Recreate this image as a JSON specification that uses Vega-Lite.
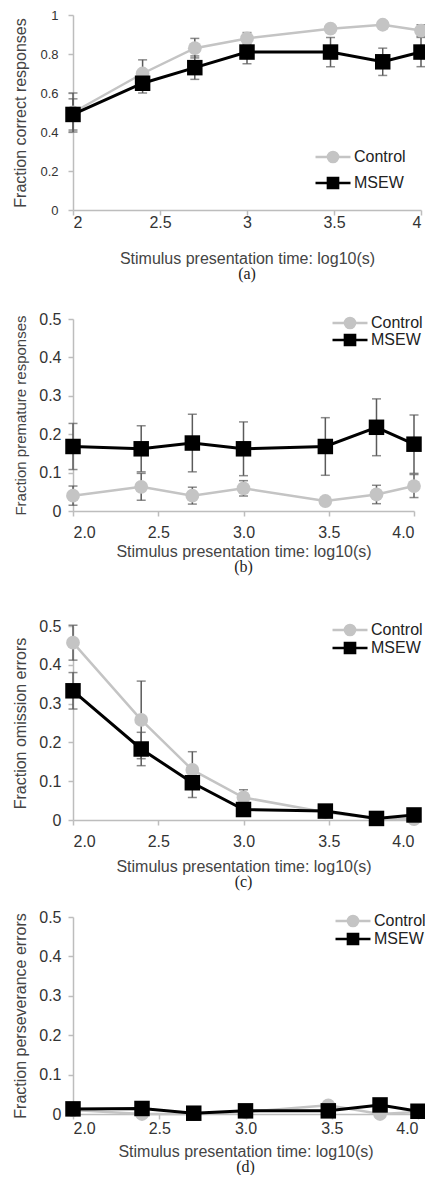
{
  "$schema": "https://vega.github.io/schema/vega-lite/v6.json",
  "padding": {"left": 12, "top": 9, "right": 0, "bottom": 0},
  "background": "white",
  "config": {
    "view": {"stroke": null},
    "axis": {"domainColor": "#bdbdbd", "tickColor": "#bdbdbd", "domainWidth": 1.5, "tickWidth": 1.5, "tickSize": 5, "labelFont": "Liberation Sans", "titleFont": "Liberation Sans", "labelColor": "#333", "titleColor": "#444", "titleFontWeight": "normal", "grid": false},
    "title": {"font": "Liberation Serif", "fontWeight": "normal", "color": "#222", "fontSize": 16, "anchor": "middle"},
    "legend": {"title": null, "padding": 0, "orient": "none", "labelFont": "Liberation Sans", "labelFontSize": 16, "labelColor": "#222", "symbolSize": 1225, "clipHeight": 16, "labelOffset": 2}
  },
  "data": {"values": [
    {"panel": "a", "series": "Control", "x": 2.0, "mean": 0.50, "err": 0.10},
    {"panel": "a", "series": "Control", "x": 2.4, "mean": 0.70, "err": 0.07},
    {"panel": "a", "series": "Control", "x": 2.7, "mean": 0.83, "err": 0.05},
    {"panel": "a", "series": "Control", "x": 3.0, "mean": 0.88, "err": 0.03},
    {"panel": "a", "series": "Control", "x": 3.48, "mean": 0.93, "err": 0.02},
    {"panel": "a", "series": "Control", "x": 3.78, "mean": 0.95, "err": 0.02},
    {"panel": "a", "series": "Control", "x": 4.0, "mean": 0.92, "err": 0.03},
    {"panel": "a", "series": "MSEW", "x": 2.0, "mean": 0.49, "err": 0.08},
    {"panel": "a", "series": "MSEW", "x": 2.4, "mean": 0.65, "err": 0.05},
    {"panel": "a", "series": "MSEW", "x": 2.7, "mean": 0.73, "err": 0.06},
    {"panel": "a", "series": "MSEW", "x": 3.0, "mean": 0.81, "err": 0.06},
    {"panel": "a", "series": "MSEW", "x": 3.48, "mean": 0.81, "err": 0.075},
    {"panel": "a", "series": "MSEW", "x": 3.78, "mean": 0.76, "err": 0.07},
    {"panel": "a", "series": "MSEW", "x": 4.0, "mean": 0.81, "err": 0.075},
    {"panel": "b", "series": "Control", "x": 2.0, "mean": 0.04, "err": 0.025},
    {"panel": "b", "series": "Control", "x": 2.4, "mean": 0.063, "err": 0.035},
    {"panel": "b", "series": "Control", "x": 2.7, "mean": 0.04, "err": 0.022},
    {"panel": "b", "series": "Control", "x": 3.0, "mean": 0.059, "err": 0.02},
    {"panel": "b", "series": "Control", "x": 3.48, "mean": 0.026, "err": 0.005},
    {"panel": "b", "series": "Control", "x": 3.78, "mean": 0.043, "err": 0.024},
    {"panel": "b", "series": "Control", "x": 4.0, "mean": 0.065, "err": 0.03},
    {"panel": "b", "series": "MSEW", "x": 2.0, "mean": 0.168, "err": 0.06},
    {"panel": "b", "series": "MSEW", "x": 2.4, "mean": 0.162, "err": 0.06},
    {"panel": "b", "series": "MSEW", "x": 2.7, "mean": 0.177, "err": 0.075},
    {"panel": "b", "series": "MSEW", "x": 3.0, "mean": 0.162, "err": 0.07},
    {"panel": "b", "series": "MSEW", "x": 3.48, "mean": 0.168, "err": 0.075},
    {"panel": "b", "series": "MSEW", "x": 3.78, "mean": 0.218, "err": 0.074},
    {"panel": "b", "series": "MSEW", "x": 4.0, "mean": 0.174, "err": 0.076},
    {"panel": "c", "series": "Control", "x": 2.0, "mean": 0.457, "err": 0.045},
    {"panel": "c", "series": "Control", "x": 2.4, "mean": 0.258, "err": 0.1},
    {"panel": "c", "series": "Control", "x": 2.7, "mean": 0.129, "err": 0.047},
    {"panel": "c", "series": "Control", "x": 3.0, "mean": 0.058, "err": 0.02},
    {"panel": "c", "series": "Control", "x": 3.48, "mean": 0.02, "err": 0.005},
    {"panel": "c", "series": "Control", "x": 3.78, "mean": 0.004, "err": 0.002},
    {"panel": "c", "series": "Control", "x": 4.0, "mean": 0.002, "err": 0.002},
    {"panel": "c", "series": "MSEW", "x": 2.0, "mean": 0.333, "err": 0.047},
    {"panel": "c", "series": "MSEW", "x": 2.4, "mean": 0.183, "err": 0.043},
    {"panel": "c", "series": "MSEW", "x": 2.7, "mean": 0.096, "err": 0.038},
    {"panel": "c", "series": "MSEW", "x": 3.0, "mean": 0.027, "err": 0.01},
    {"panel": "c", "series": "MSEW", "x": 3.48, "mean": 0.023, "err": 0.005},
    {"panel": "c", "series": "MSEW", "x": 3.78, "mean": 0.004, "err": 0.003},
    {"panel": "c", "series": "MSEW", "x": 4.0, "mean": 0.013, "err": 0.005},
    {"panel": "d", "series": "Control", "x": 2.0, "mean": 0.01, "err": 0.003},
    {"panel": "d", "series": "Control", "x": 2.4, "mean": 0.0, "err": 0.003},
    {"panel": "d", "series": "Control", "x": 2.7, "mean": 0.0, "err": 0.003},
    {"panel": "d", "series": "Control", "x": 3.0, "mean": 0.005, "err": 0.003},
    {"panel": "d", "series": "Control", "x": 3.48, "mean": 0.022, "err": 0.003},
    {"panel": "d", "series": "Control", "x": 3.78, "mean": 0.0, "err": 0.003},
    {"panel": "d", "series": "Control", "x": 4.0, "mean": 0.005, "err": 0.003},
    {"panel": "d", "series": "MSEW", "x": 2.0, "mean": 0.013, "err": 0.003},
    {"panel": "d", "series": "MSEW", "x": 2.4, "mean": 0.014, "err": 0.003},
    {"panel": "d", "series": "MSEW", "x": 2.7, "mean": 0.002, "err": 0.003},
    {"panel": "d", "series": "MSEW", "x": 3.0, "mean": 0.008, "err": 0.003},
    {"panel": "d", "series": "MSEW", "x": 3.48, "mean": 0.008, "err": 0.003},
    {"panel": "d", "series": "MSEW", "x": 3.78, "mean": 0.023, "err": 0.003},
    {"panel": "d", "series": "MSEW", "x": 4.0, "mean": 0.007, "err": 0.003}
  ]},
  "resolve": {"scale": {"color": "independent"}, "legend": {"color": "independent"}},
  "spacing": 43,
  "vconcat": [
    {
      "spacing": 29,
      "resolve": {"scale": {"color": "independent"}, "legend": {"color": "independent"}},
      "vconcat": [
        {
          "width": 348, "height": 195,
          "transform": [{"filter": "datum.panel === 'a'"}],
          "title": {"text": "(a)", "orient": "bottom", "offset": 0},
          "encoding": {
            "x": {"field": "x", "type": "quantitative", "scale": {"domain": [2, 4], "nice": false, "zero": false}, "axis": {"values": [2, 2.5, 3, 3.5, 4], "format": "~g", "title": "Stimulus presentation time: log10(s)", "labelFontSize": 16, "titleFontSize": 16, "labelPadding": -1, "titlePadding": 20}},
            "y": {"field": "mean", "type": "quantitative", "scale": {"domain": [0, 1], "nice": false}, "axis": {"values": [0, 0.2, 0.4, 0.6, 0.8, 1], "format": "~g", "title": "Fraction correct responses", "labelFontSize": 13, "titleFontSize": 16, "labelPadding": 10, "titlePadding": 11}}
          },
          "layer": [
            {"mark": {"type": "errorbar", "ticks": {"size": 9}, "thickness": 1.5, "color": "#5a5a5a"}, "encoding": {"yError": {"field": "err"}}},
            {"transform": [{"filter": "datum.series === 'Control'"}], "mark": {"type": "line", "strokeWidth": 2.5}, "encoding": {"color": {"field": "series", "type": "nominal", "scale": {"domain": ["Control", "MSEW"], "range": ["#c4c4c4", "#000000"]}, "legend": {"legendX": 241, "legendY": 134, "rowPadding": 10, "encode": {"symbols": {"update": {"shape": {"signal": "datum.value === 'Control' ? 'M-1,0H1M0.29,0A0.29,0.29,0,1,1,-0.29,0A0.29,0.29,0,1,1,0.29,0Z' : 'M-1,0H1M-0.29,-0.29H0.29V0.29H-0.29Z'"}, "fill": {"signal": "datum.value === 'Control' ? '#c4c4c4' : '#000000'"}, "stroke": {"signal": "datum.value === 'Control' ? '#c4c4c4' : '#000000'"}, "strokeWidth": {"value": 2.5}, "opacity": {"value": 1}, "fillOpacity": {"value": 1}, "strokeOpacity": {"value": 1}}}}}}}},
            {"transform": [{"filter": "datum.series === 'Control'"}], "mark": {"type": "point", "shape": "circle", "filled": true, "size": 190, "opacity": 1}, "encoding": {"color": {"field": "series", "type": "nominal"}}},
            {"transform": [{"filter": "datum.series === 'MSEW'"}], "mark": {"type": "line", "strokeWidth": 3}, "encoding": {"color": {"field": "series", "type": "nominal"}}},
            {"transform": [{"filter": "datum.series === 'MSEW'"}], "mark": {"type": "point", "shape": "square", "filled": true, "size": 240, "opacity": 1}, "encoding": {"color": {"field": "series", "type": "nominal"}}}
          ]
        },
        {
          "width": 341, "height": 192,
          "transform": [{"filter": "datum.panel === 'b'"}],
          "title": {"text": "(b)", "orient": "bottom", "offset": 0},
          "encoding": {
            "x": {"field": "x", "type": "quantitative", "scale": {"domain": [2, 4], "nice": false, "zero": false}, "axis": {"values": [2, 2.5, 3, 3.5, 4], "format": ".1f", "title": "Stimulus presentation time: log10(s)", "labelFontSize": 16, "titleFontSize": 16, "labelPadding": 8, "titlePadding": 3}},
            "y": {"field": "mean", "type": "quantitative", "scale": {"domain": [0, 0.5], "nice": false}, "axis": {"values": [0, 0.1, 0.2, 0.3, 0.4, 0.5], "format": "~g", "title": "Fraction premature responses", "labelFontSize": 16, "titleFontSize": 15, "labelPadding": 7, "titlePadding": 10}}
          },
          "layer": [
            {"mark": {"type": "errorbar", "ticks": {"size": 9}, "thickness": 1.5, "color": "#5a5a5a"}, "encoding": {"yError": {"field": "err"}}},
            {"transform": [{"filter": "datum.series === 'Control'"}], "mark": {"type": "line", "strokeWidth": 2.5}, "encoding": {"color": {"field": "series", "type": "nominal", "scale": {"domain": ["Control", "MSEW"], "range": ["#c4c4c4", "#000000"]}, "legend": {"legendX": 258, "legendY": -4, "rowPadding": 1, "encode": {"symbols": {"update": {"shape": {"signal": "datum.value === 'Control' ? 'M-1,0H1M0.29,0A0.29,0.29,0,1,1,-0.29,0A0.29,0.29,0,1,1,0.29,0Z' : 'M-1,0H1M-0.29,-0.29H0.29V0.29H-0.29Z'"}, "fill": {"signal": "datum.value === 'Control' ? '#c4c4c4' : '#000000'"}, "stroke": {"signal": "datum.value === 'Control' ? '#c4c4c4' : '#000000'"}, "strokeWidth": {"value": 2.5}, "opacity": {"value": 1}, "fillOpacity": {"value": 1}, "strokeOpacity": {"value": 1}}}}}}}},
            {"transform": [{"filter": "datum.series === 'Control'"}], "mark": {"type": "point", "shape": "circle", "filled": true, "size": 190, "opacity": 1}, "encoding": {"color": {"field": "series", "type": "nominal"}}},
            {"transform": [{"filter": "datum.series === 'MSEW'"}], "mark": {"type": "line", "strokeWidth": 3}, "encoding": {"color": {"field": "series", "type": "nominal"}}},
            {"transform": [{"filter": "datum.series === 'MSEW'"}], "mark": {"type": "point", "shape": "square", "filled": true, "size": 240, "opacity": 1}, "encoding": {"color": {"field": "series", "type": "nominal"}}}
          ]
        }
      ]
    },
    {
      "spacing": 19,
      "resolve": {"scale": {"color": "independent"}, "legend": {"color": "independent"}},
      "vconcat": [
        {
          "width": 341, "height": 194,
          "transform": [{"filter": "datum.panel === 'c'"}],
          "title": {"text": "(c)", "orient": "bottom", "offset": 0},
          "encoding": {
            "x": {"field": "x", "type": "quantitative", "scale": {"domain": [2, 4], "nice": false, "zero": false}, "axis": {"values": [2, 2.5, 3, 3.5, 4], "format": ".1f", "title": "Stimulus presentation time: log10(s)", "labelFontSize": 16, "titleFontSize": 16, "labelPadding": 8, "titlePadding": 9}},
            "y": {"field": "mean", "type": "quantitative", "scale": {"domain": [0, 0.5], "nice": false}, "axis": {"values": [0, 0.1, 0.2, 0.3, 0.4, 0.5], "format": "~g", "title": "Fraction omission errors", "labelFontSize": 16, "titleFontSize": 16, "labelPadding": 7, "titlePadding": 10}}
          },
          "layer": [
            {"mark": {"type": "errorbar", "ticks": {"size": 9}, "thickness": 1.5, "color": "#5a5a5a"}, "encoding": {"yError": {"field": "err"}}},
            {"transform": [{"filter": "datum.series === 'Control'"}], "mark": {"type": "line", "strokeWidth": 2.5}, "encoding": {"color": {"field": "series", "type": "nominal", "scale": {"domain": ["Control", "MSEW"], "range": ["#c4c4c4", "#000000"]}, "legend": {"legendX": 258, "legendY": -4, "rowPadding": 2, "encode": {"symbols": {"update": {"shape": {"signal": "datum.value === 'Control' ? 'M-1,0H1M0.29,0A0.29,0.29,0,1,1,-0.29,0A0.29,0.29,0,1,1,0.29,0Z' : 'M-1,0H1M-0.29,-0.29H0.29V0.29H-0.29Z'"}, "fill": {"signal": "datum.value === 'Control' ? '#c4c4c4' : '#000000'"}, "stroke": {"signal": "datum.value === 'Control' ? '#c4c4c4' : '#000000'"}, "strokeWidth": {"value": 2.5}, "opacity": {"value": 1}, "fillOpacity": {"value": 1}, "strokeOpacity": {"value": 1}}}}}}}},
            {"transform": [{"filter": "datum.series === 'Control'"}], "mark": {"type": "point", "shape": "circle", "filled": true, "size": 190, "opacity": 1}, "encoding": {"color": {"field": "series", "type": "nominal"}}},
            {"transform": [{"filter": "datum.series === 'MSEW'"}], "mark": {"type": "line", "strokeWidth": 3}, "encoding": {"color": {"field": "series", "type": "nominal"}}},
            {"transform": [{"filter": "datum.series === 'MSEW'"}], "mark": {"type": "point", "shape": "square", "filled": true, "size": 240, "opacity": 1}, "encoding": {"color": {"field": "series", "type": "nominal"}}}
          ]
        },
        {
          "width": 345, "height": 197,
          "transform": [{"filter": "datum.panel === 'd'"}],
          "title": {"text": "(d)", "orient": "bottom", "offset": 0},
          "encoding": {
            "x": {"field": "x", "type": "quantitative", "scale": {"domain": [2, 4], "nice": false, "zero": false}, "axis": {"values": [2, 2.5, 3, 3.5, 4], "format": ".1f", "title": "Stimulus presentation time: log10(s)", "labelFontSize": 16, "titleFontSize": 16, "labelPadding": 1, "titlePadding": 7}},
            "y": {"field": "mean", "type": "quantitative", "scale": {"domain": [0, 0.5], "nice": false}, "axis": {"values": [0, 0.1, 0.2, 0.3, 0.4, 0.5], "format": "~g", "title": "Fraction perseverance errors", "labelFontSize": 16, "titleFontSize": 16, "labelPadding": 7, "titlePadding": 10}}
          },
          "layer": [
            {"mark": {"type": "errorbar", "ticks": {"size": 9}, "thickness": 1.5, "color": "#5a5a5a"}, "encoding": {"yError": {"field": "err"}}},
            {"transform": [{"filter": "datum.series === 'Control'"}], "mark": {"type": "line", "strokeWidth": 2.5}, "encoding": {"color": {"field": "series", "type": "nominal", "scale": {"domain": ["Control", "MSEW"], "range": ["#c4c4c4", "#000000"]}, "legend": {"legendX": 261, "legendY": -4, "rowPadding": 2, "encode": {"symbols": {"update": {"shape": {"signal": "datum.value === 'Control' ? 'M-1,0H1M0.29,0A0.29,0.29,0,1,1,-0.29,0A0.29,0.29,0,1,1,0.29,0Z' : 'M-1,0H1M-0.29,-0.29H0.29V0.29H-0.29Z'"}, "fill": {"signal": "datum.value === 'Control' ? '#c4c4c4' : '#000000'"}, "stroke": {"signal": "datum.value === 'Control' ? '#c4c4c4' : '#000000'"}, "strokeWidth": {"value": 2.5}, "opacity": {"value": 1}, "fillOpacity": {"value": 1}, "strokeOpacity": {"value": 1}}}}}}}},
            {"transform": [{"filter": "datum.series === 'Control'"}], "mark": {"type": "point", "shape": "circle", "filled": true, "size": 190, "opacity": 1}, "encoding": {"color": {"field": "series", "type": "nominal"}}},
            {"transform": [{"filter": "datum.series === 'MSEW'"}], "mark": {"type": "line", "strokeWidth": 3}, "encoding": {"color": {"field": "series", "type": "nominal"}}},
            {"transform": [{"filter": "datum.series === 'MSEW'"}], "mark": {"type": "point", "shape": "square", "filled": true, "size": 240, "opacity": 1}, "encoding": {"color": {"field": "series", "type": "nominal"}}}
          ]
        }
      ]
    }
  ]
}
